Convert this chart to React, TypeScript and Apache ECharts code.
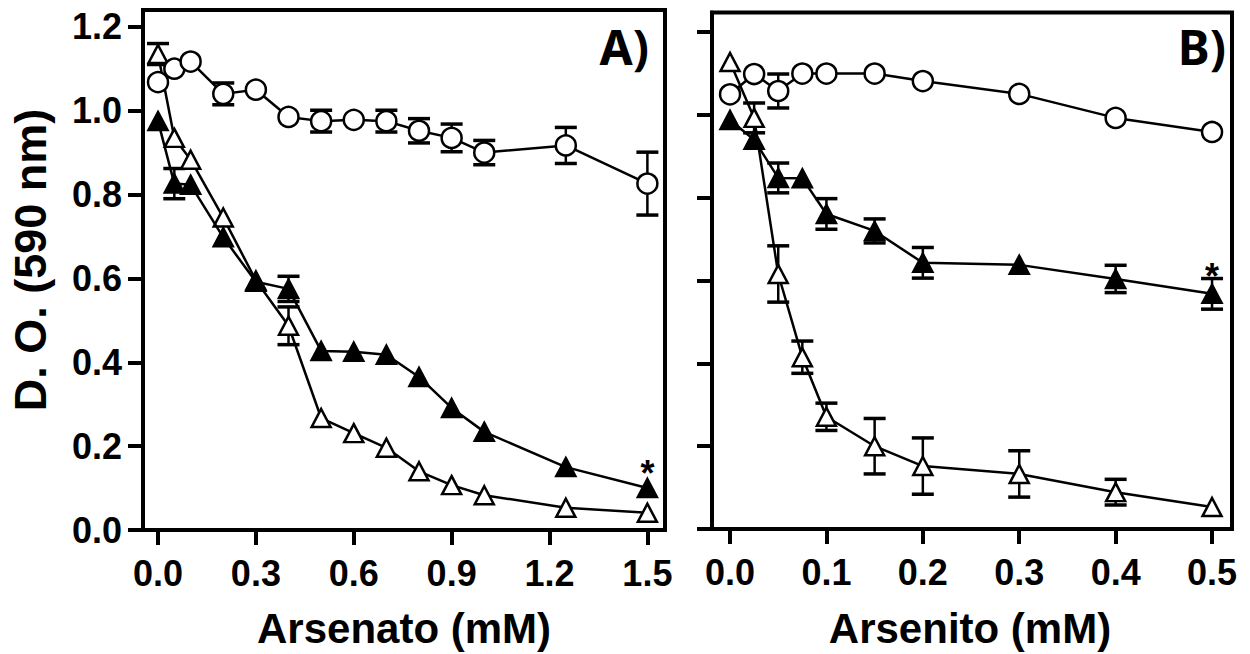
import React, { useEffect, useRef } from "react";
import * as echarts from "echarts";

// ---------- Data ----------
const arsenatoX = [0, 0.05, 0.1, 0.2, 0.3, 0.4, 0.5, 0.6, 0.7, 0.8, 0.9, 1.0, 1.25, 1.5];
const arsenatoCircle = [1.068, 1.1, 1.117, 1.04, 1.05, 0.985, 0.975, 0.978, 0.975, 0.952, 0.935, 0.9, 0.917, 0.826];
const arsenatoCircleErr = [0, 0, 0, 0.026, 0, 0, 0.026, 0, 0.026, 0.029, 0.033, 0.029, 0.043, 0.075];
const arsenatoOpenTri = [1.135, 0.935, 0.883, 0.745, 0.595, 0.487, 0.267, 0.231, 0.196, 0.14, 0.107, 0.083, 0.053, 0.041];
const arsenatoOpenTriErr = [0.025, 0, 0, 0, 0, 0.045, 0, 0, 0, 0, 0, 0, 0, 0];
const arsenatoFilledTri = [0.975, 0.826, 0.823, 0.698, 0.592, 0.575, 0.427, 0.425, 0.418, 0.365, 0.291, 0.234, 0.15, 0.1];
const arsenatoFilledTriErr = [0, 0.036, 0, 0, 0, 0.03, 0, 0, 0, 0, 0, 0, 0, 0];

const arsenitoX = [0, 0.025, 0.05, 0.075, 0.1, 0.15, 0.2, 0.3, 0.4, 0.5];
const arsenitoCircle = [1.05, 1.099, 1.058, 1.1, 1.1, 1.1, 1.082, 1.051, 0.993, 0.959];
const arsenitoCircleErr = [0, 0, 0.041, 0, 0, 0, 0, 0, 0, 0];
const arsenitoOpenTri = [1.128, 0.993, 0.616, 0.415, 0.271, 0.2, 0.152, 0.133, 0.089, 0.053];
const arsenitoOpenTriErr = [0, 0.036, 0.068, 0.039, 0.033, 0.067, 0.068, 0.056, 0.031, 0];
const arsenitoFilledTri = [0.988, 0.94, 0.848, 0.847, 0.761, 0.72, 0.643, 0.638, 0.604, 0.568];
const arsenitoFilledTriErr = [0, 0, 0.036, 0, 0.037, 0.029, 0.037, 0, 0.033, 0.037];

const yTicks = [0, 0.2, 0.4, 0.6, 0.8, 1.0, 1.2];
const arsenatoTicks = [0, 0.3, 0.6, 0.9, 1.2, 1.5];
const arsenitoTicks = [0, 0.1, 0.2, 0.3, 0.4, 0.5];

const yTitle = "D. O. (590 nm)";
const xTitleA = "Arsenato (mM)";
const xTitleB = "Arsenito (mM)";
const panelA = "A)";
const panelB = "B)";
const asterisk = "*";

// ---------- Helpers ----------
const FONT = "'Liberation Sans', Arial, Helvetica, sans-serif";

function pairs(xs: number[], ys: number[]) {
  return xs.map((x, i) => [x, ys[i]]);
}

function errData(xs: number[], ys: number[], es: number[]) {
  const out: number[][] = [];
  xs.forEach((x, i) => {
    if (es[i] > 0) out.push([x, ys[i] - es[i], ys[i] + es[i]]);
  });
  return out;
}

function errorSeries(data: number[][], axisIndex: number) {
  return {
    type: "custom",
    xAxisIndex: axisIndex,
    yAxisIndex: axisIndex,
    z: 1,
    silent: true,
    clip: false,
    encode: { x: 0, y: [1, 2] },
    data,
    renderItem: (params: any, api: any) => {
      const x = api.value(0);
      const lo = api.coord([x, api.value(1)]);
      const hi = api.coord([x, api.value(2)]);
      const hw = 11;
      return {
        type: "group",
        children: [
          {
            type: "line",
            shape: { x1: lo[0], y1: lo[1], x2: hi[0], y2: hi[1] },
            style: { stroke: "#000", lineWidth: 2.5 },
          },
          {
            type: "line",
            shape: { x1: hi[0] - hw, y1: hi[1], x2: hi[0] + hw, y2: hi[1] },
            style: { stroke: "#000", lineWidth: 3.5 },
          },
          {
            type: "line",
            shape: { x1: lo[0] - hw, y1: lo[1], x2: lo[0] + hw, y2: lo[1] },
            style: { stroke: "#000", lineWidth: 3.5 },
          },
        ],
      };
    },
  };
}

function lineSeries(
  data: any[],
  axisIndex: number,
  symbol: string,
  size: any,
  fill: string,
  z: number
) {
  return {
    type: "line",
    xAxisIndex: axisIndex,
    yAxisIndex: axisIndex,
    data,
    symbol,
    symbolSize: size,
    showAllSymbol: true,
    silent: true,
    z,
    clip: false,
    lineStyle: { color: "#000", width: 2.5 },
    itemStyle: { color: fill, borderColor: "#000", borderWidth: 2.5, opacity: 1 },
    emphasis: { disabled: true },
  };
}

function withAsterisk(data: number[][], distance: number) {
  return data.map((d, i) =>
    i === data.length - 1
      ? {
          value: d,
          label: {
            show: true,
            formatter: asterisk,
            position: "top",
            distance,
            color: "#000",
            fontFamily: FONT,
            fontWeight: "bold",
            fontSize: 36,
          },
        }
      : d
  );
}

const fmt = (v: number) => v.toFixed(1);

const axisLineStyle = { show: true, onZero: false, lineStyle: { color: "#000", width: 4 } };
const tickStyle = (vals: number[]) => ({
  show: true,
  length: 15,
  inside: false,
  customValues: vals,
  lineStyle: { color: "#000", width: 4 },
});
const labelStyle = (vals: number[], extra: any) => ({
  show: true,
  customValues: vals,
  formatter: fmt,
  color: "#000",
  fontFamily: FONT,
  fontWeight: "bold",
  fontSize: 36,
  ...extra,
});

export default function App() {
  const ref = useRef<HTMLDivElement>(null);

  useEffect(() => {
    if (!ref.current) return;
    const chart = echarts.init(ref.current, undefined, { renderer: "svg" });

    const option: any = {
      animation: false,
      backgroundColor: "#fff",
      grid: [
        {
          left: 143,
          top: 10,
          width: 522,
          height: 520,
          show: true,
          borderColor: "#000",
          borderWidth: 4,
          backgroundColor: "transparent",
        },
        {
          left: 712,
          top: 12.5,
          width: 520,
          height: 516.5,
          show: true,
          borderColor: "#000",
          borderWidth: 4,
          backgroundColor: "transparent",
        },
      ],
      xAxis: [
        {
          type: "value",
          gridIndex: 0,
          min: -0.046,
          max: 1.554,
          axisLine: axisLineStyle,
          axisTick: tickStyle(arsenatoTicks),
          axisLabel: labelStyle(arsenatoTicks, { margin: 43, verticalAlign: "middle" }),
          splitLine: { show: false },
        },
        {
          type: "value",
          gridIndex: 1,
          min: -0.0187,
          max: 0.5207,
          axisLine: axisLineStyle,
          axisTick: tickStyle(arsenitoTicks),
          axisLabel: labelStyle(arsenitoTicks, { margin: 43, verticalAlign: "middle" }),
          splitLine: { show: false },
        },
      ],
      yAxis: [
        {
          type: "value",
          gridIndex: 0,
          min: 0,
          max: 1.24,
          axisLine: axisLineStyle,
          axisTick: tickStyle(yTicks),
          axisLabel: labelStyle(yTicks, { margin: 21 }),
          splitLine: { show: false },
        },
        {
          type: "value",
          gridIndex: 1,
          min: 0,
          max: 1.2476,
          axisLine: axisLineStyle,
          axisTick: tickStyle(yTicks),
          axisLabel: { show: false },
          splitLine: { show: false },
        },
      ],
      series: [
        errorSeries(errData(arsenatoX, arsenatoCircle, arsenatoCircleErr), 0),
        errorSeries(errData(arsenatoX, arsenatoOpenTri, arsenatoOpenTriErr), 0),
        errorSeries(errData(arsenatoX, arsenatoFilledTri, arsenatoFilledTriErr), 0),
        errorSeries(errData(arsenitoX, arsenitoCircle, arsenitoCircleErr), 1),
        errorSeries(errData(arsenitoX, arsenitoOpenTri, arsenitoOpenTriErr), 1),
        errorSeries(errData(arsenitoX, arsenitoFilledTri, arsenitoFilledTriErr), 1),
        lineSeries(pairs(arsenatoX, arsenatoOpenTri), 0, "triangle", [19, 18], "#fff", 2),
        lineSeries(withAsterisk(pairs(arsenatoX, arsenatoFilledTri), -13.5), 0, "triangle", [19, 18], "#000", 3),
        lineSeries(pairs(arsenatoX, arsenatoCircle), 0, "circle", 20, "#fff", 4),
        lineSeries(pairs(arsenitoX, arsenitoOpenTri), 1, "triangle", [19, 18], "#fff", 2),
        lineSeries(withAsterisk(pairs(arsenitoX, arsenitoFilledTri), -10.5), 1, "triangle", [19, 18], "#000", 3),
        lineSeries(pairs(arsenitoX, arsenitoCircle), 1, "circle", 20, "#fff", 4),
      ],
      graphic: [
        {
          type: "text",
          x: 30,
          y: 260,
          rotation: Math.PI / 2,
          style: {
            text: yTitle,
            fill: "#000",
            font: `bold 45px ${FONT}`,
            textAlign: "center",
            textVerticalAlign: "middle",
          },
        },
        {
          type: "text",
          x: 404,
          y: 628,
          style: {
            text: xTitleA,
            fill: "#000",
            font: `bold 42px ${FONT}`,
            textAlign: "center",
            textVerticalAlign: "middle",
          },
        },
        {
          type: "text",
          x: 970,
          y: 628,
          style: {
            text: xTitleB,
            fill: "#000",
            font: `bold 42px ${FONT}`,
            textAlign: "center",
            textVerticalAlign: "middle",
          },
        },
        {
          type: "text",
          x: 649,
          y: 46,
          style: {
            text: panelA,
            fill: "#000",
            font: `bold 48px 'Noto Sans', 'DejaVu Sans', sans-serif`,
            textAlign: "right",
            textVerticalAlign: "middle",
          },
        },
        {
          type: "text",
          x: 1226,
          y: 46,
          style: {
            text: panelB,
            fill: "#000",
            font: `bold 48px 'Noto Sans', 'DejaVu Sans', sans-serif`,
            textAlign: "right",
            textVerticalAlign: "middle",
          },
        },
      ],
    };

    chart.setOption(option);
    return () => chart.dispose();
  }, []);

  return (
    <div
      ref={ref}
      style={{ position: "absolute", left: 0, top: 0, width: 1250, height: 654 }}
    />
  );
}
